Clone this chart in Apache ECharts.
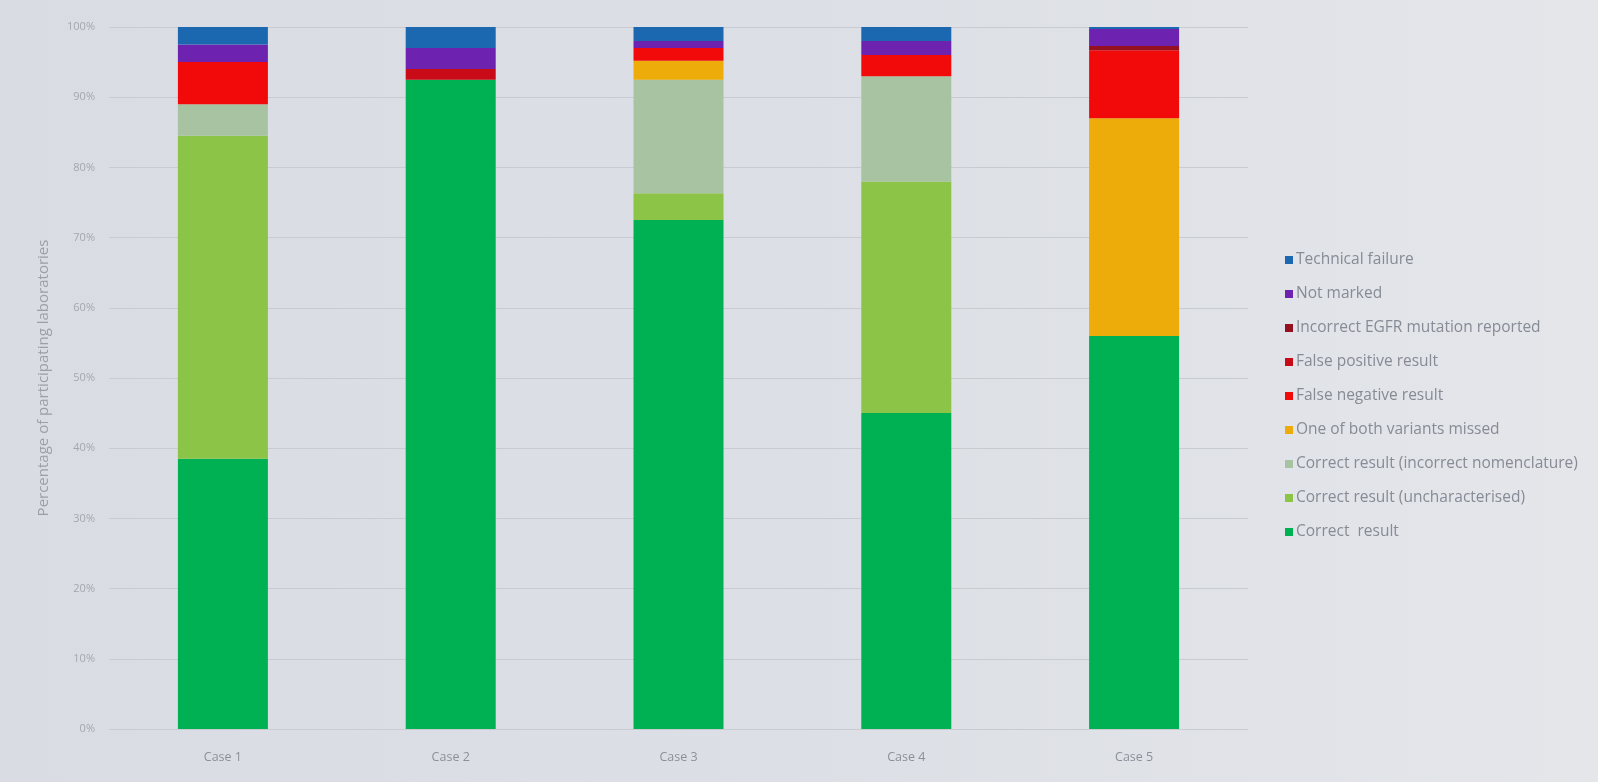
<!DOCTYPE html>
<html lang="en">
	<head>
		<meta charset="utf-8" />
		<title>EGFR EQA results per case</title>
		<style>
			html, body { margin: 0; padding: 0; background: #ffffff; }
			#chart { width: 1598px; height: 782px; }
		</style>
	</head>
	<body>
		<div id="chart"></div>
		<script type="text/javascript" src="https://cdn.jsdelivr.net/npm/echarts@6/dist/echarts.min.js"></script>
		<script type="text/javascript">
			// categories
			const cases = ['Case 1', 'Case 2', 'Case 3', 'Case 4', 'Case 5'];

			// series values (percent of participating laboratories), bottom to top
			const correctResult = [38.5, 92.5, 72.5, 45, 56];
			const uncharacterised = [46, 0, 3.8, 33, 0];
			const wrongNomenclature = [4.5, 0, 16.2, 15, 0];
			const variantMissed = [0, 0, 2.7, 0, 31];
			const falseNegative = [6, 0, 1.8, 3, 9.7];
			const falsePositive = [0, 1.5, 0, 0, 0];
			const incorrectEgfr = [0, 0, 0, 0, 0.6];
			const notMarked = [2.5, 3, 1, 2, 2.4];
			const technicalFailure = [2.5, 3, 2, 2, 0.3];

			const yTicks = { min: 0, max: 100, interval: 10 };

			const chart = echarts.init(document.getElementById('chart'));

			//bottom to top, name + colour + data
			const stack = [
				['Correct  result', '#00b153', correctResult],
				['Correct result (uncharacterised)', '#8cc447', uncharacterised],
				['Correct result (incorrect nomenclature)', '#a8c3a2', wrongNomenclature],
				['One of both variants missed', '#eeac0a', variantMissed],
				['False negative result', '#f20a0a', falseNegative],
				['False positive result', '#c80b16', falsePositive],
				['Incorrect EGFR mutation reported', '#951020', incorrectEgfr],
				['Not marked', '#6d22b0', notMarked],
				['Technical failure', '#1c68b0', technicalFailure]
			];

			const series = stack.map(function(s) {
				return {
					name: s[0],
					type: 'bar',
					stack: 'total',
					barWidth: 90,
					itemStyle: { color: s[1] },
					data: s[2]
				};
			});

			chart.setOption({
				animation: false,
				backgroundColor: {
					type: 'linear', x: 0, y: 0, x2: 1, y2: 0,
					colorStops: [
						{ offset: 0, color: '#d9dde3' },
						{ offset: 0.5, color: '#dcdfe5' },
						{ offset: 1, color: '#e4e6ea' }
					]
				},
				textStyle: { fontFamily: 'Open Sans' },
				grid: {
					left: 109,
					right: 350,
					top: 27,
					bottom: 53
				},
				legend: {
					orient: 'vertical',
					left: 1280,
					top: 247,
					itemWidth: 8,
					itemHeight: 8,
					itemGap: 18,
					icon: 'rect',
					data: stack.map(function(s) { return s[0]; }).reverse(),
					textStyle: { color: '#868b96', fontSize: 15.5, padding: [0, 0, 0, -2] }
				},
				xAxis: {
					type: 'category',
					data: cases,
					axisLine: { show: false },
					axisTick: { show: false },
					axisLabel: { color: '#8b909a', fontSize: 12.5, margin: 22 }
				},
				yAxis: {
					type: 'value',
					min: yTicks.min,
					max: yTicks.max,
					interval: yTicks.interval,
					name: 'Percentage of participating laboratories',
					nameLocation: 'middle',
					nameGap: 58,
					nameTextStyle: { color: '#9a9fa8', fontSize: 15 },
					axisLabel: { color: '#a3a7af', fontSize: 11, formatter: '{value}%', margin: 14 },
					splitLine: { lineStyle: { color: '#c8cbd0', width: 1 } }
				},
				series: series
			});

			window.onresize = function() {
				chart.resize();
			};
		</script>
	</body>
</html>
